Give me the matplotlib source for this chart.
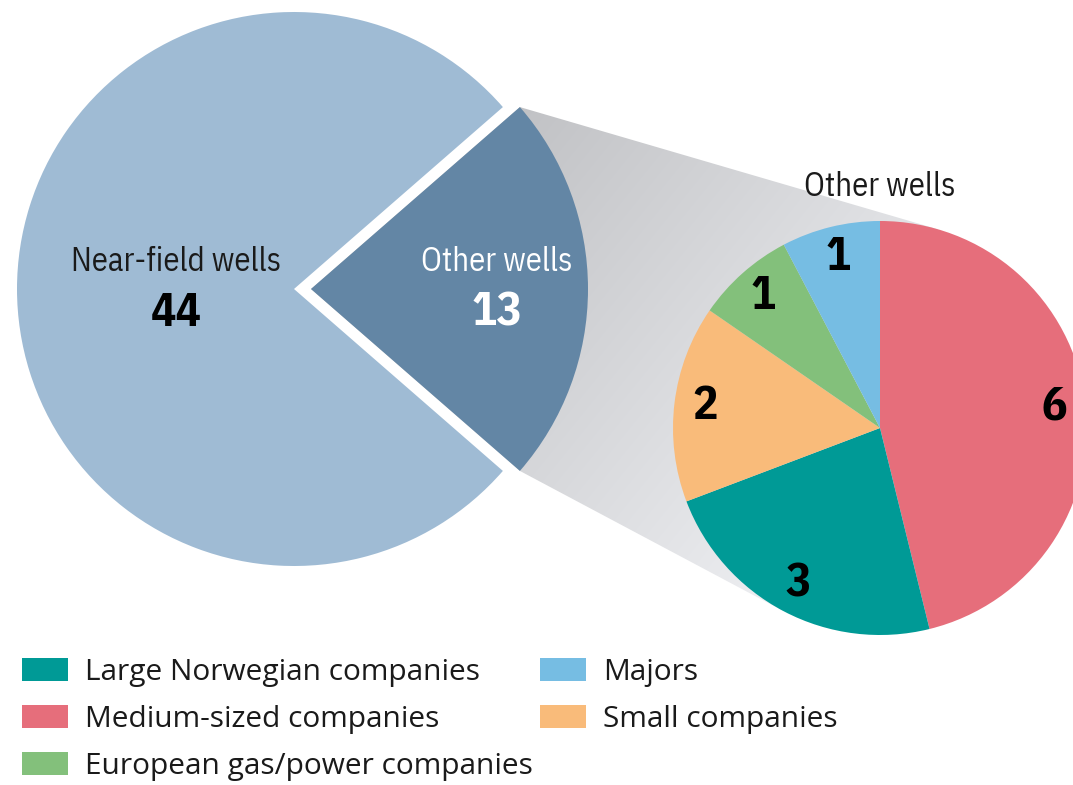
import numpy as np
import matplotlib
matplotlib.use("Agg")
import matplotlib.pyplot as plt
import matplotlib.patches as patches

# data
main_labels = ["Near-field wells", "Other wells"]
main_values = [44, 13]
main_colors = ["#9fbbd4", "#6386a5"]

sub_labels = ["Medium-sized companies", "Large Norwegian companies", "Small companies",
              "European gas/power companies", "Majors"]
sub_values = [6, 3, 2, 1, 1]
sub_colors = ["#e66e7b", "#009a96", "#f9bb7a", "#83c07b", "#76bde3"]

legend_col1 = ["Large Norwegian companies", "Medium-sized companies", "European gas/power companies"]
legend_col2 = ["Majors", "Small companies"]

W, H = 1073, 785
COND = ["IBM Plex Sans Condensed", "DejaVu Sans"]
LEG_FONT = ["Open Sans", "DejaVu Sans"]
TXT = "#1a1a1a"

fig = plt.figure(figsize=(W / 100, H / 100), dpi=100)
fig.patch.set_facecolor("white")
ax = fig.add_axes([0, 0, 1, 1])

# layout (pixel coords, y measured upward)
BIG_C = (294, H - 289)
BIG_R = 277
EXPLODE = 17
SMALL_C = (880, H - 428)
SMALL_R = 207

# big pie
half = 360 * main_values[1] / sum(main_values) / 2
big_wedges, _ = ax.pie(main_values, colors=main_colors, startangle=half, center=BIG_C,
                       radius=BIG_R, explode=[0, EXPLODE], counterclock=True,
                       wedgeprops=dict(linewidth=0))
for w in big_wedges:
    w.set_zorder(3)

# small pie
total = sum(sub_values)
sub_wedges, _, autotexts = ax.pie(sub_values, colors=sub_colors, startangle=90, counterclock=False,
                                  center=SMALL_C, radius=SMALL_R,
                                  autopct=lambda p: f"{p * total / 100:.0f}", pctdistance=0.85,
                                  wedgeprops=dict(linewidth=0),
                                  textprops=dict(fontsize=34, fontweight="bold", color="black",
                                                 family=COND))
for w in sub_wedges:
    w.set_zorder(3)
for t in autotexts:
    t.set_zorder(5)

# grey connector: tangent lines from the exploded wedge to the small pie
ow = big_wedges[1]
oc = np.array(ow.center)
p1 = oc + BIG_R * np.array([np.cos(np.radians(ow.theta2)), np.sin(np.radians(ow.theta2))])
p2 = oc + BIG_R * np.array([np.cos(np.radians(ow.theta1)), np.sin(np.radians(ow.theta1))])
sc = np.array(SMALL_C, dtype=float)


def tangent_point(p, sign):
    d = sc - p
    dist = np.hypot(*d)
    a = sign * np.arcsin(SMALL_R / dist)
    u = d / dist
    rot = np.array([u[0] * np.cos(a) - u[1] * np.sin(a), u[0] * np.sin(a) + u[1] * np.cos(a)])
    return p + np.sqrt(dist ** 2 - SMALL_R ** 2) * rot


t1 = tangent_point(p1, 1)
t2 = tangent_point(p2, -1)
poly = patches.Polygon([oc, p1, t1, sc, t2, p2], closed=True, facecolor="none", edgecolor="none")
ax.add_patch(poly)

# gradient: darker near the big pie, lighter towards the lower right (row 0 = top)
xx, yy = np.meshgrid(np.arange(W), np.arange(H))
g = 196 + 0.068 * (xx - 521) + 0.055 * (yy - 107)
g = np.clip(g, 0, 246) / 255.0
rgb = np.dstack([g - 0.012, g - 0.008, g + 0.004]).clip(0, 1)
im = ax.imshow(rgb, extent=[0, W, 0, H], origin="upper", zorder=1, interpolation="bilinear")
im.set_clip_path(poly)

# labels in big pie
LBL = 23.5
ax.text(BIG_C[0] - 118, BIG_C[1] + 27, main_labels[0], ha="center", va="center",
        fontsize=LBL, color=TXT, family=COND, zorder=5)
ax.text(BIG_C[0] - 118, BIG_C[1] - 24, str(main_values[0]), ha="center", va="center",
        fontsize=34, fontweight="bold", color="black", family=COND, zorder=5)
ax.text(oc[0] + 186, oc[1] + 27, main_labels[1], ha="center", va="center",
        fontsize=LBL, color="white", family=COND, zorder=5)
ax.text(oc[0] + 186, oc[1] - 24, str(main_values[1]), ha="center", va="center",
        fontsize=34, fontweight="bold", color="white", family=COND, zorder=5)

# title over small pie
ax.text(SMALL_C[0], SMALL_C[1] + SMALL_R + 34, "Other wells", ha="center", va="center",
        fontsize=LBL, color=TXT, family=COND, zorder=5)

# legend (two columns)
color_of = dict(zip(sub_labels, sub_colors))
fs = 21.5
fs_px = fs * 100 / 72


def make_legend(names, x, y):
    handles = [patches.Patch(facecolor=color_of[n], edgecolor="none") for n in names]
    leg = ax.legend(handles, names, loc="upper left", bbox_to_anchor=(x, y),
                    bbox_transform=ax.transData, frameon=False, borderpad=0, borderaxespad=0,
                    handlelength=46 / fs_px, handleheight=24 / fs_px, handletextpad=17 / fs_px,
                    labelspacing=0.6, prop=dict(family=LEG_FONT, size=fs))
    for t in leg.get_texts():
        t.set_color(TXT)
    return leg


leg1 = make_legend(legend_col1, 22, H - 658)
ax.add_artist(leg1)
make_legend(legend_col2, 540, H - 658)

ax.set_xlim(0, W)
ax.set_ylim(0, H)
ax.set_aspect("equal")
ax.axis("off")

fig.savefig("out.png", dpi=100, facecolor="white")
